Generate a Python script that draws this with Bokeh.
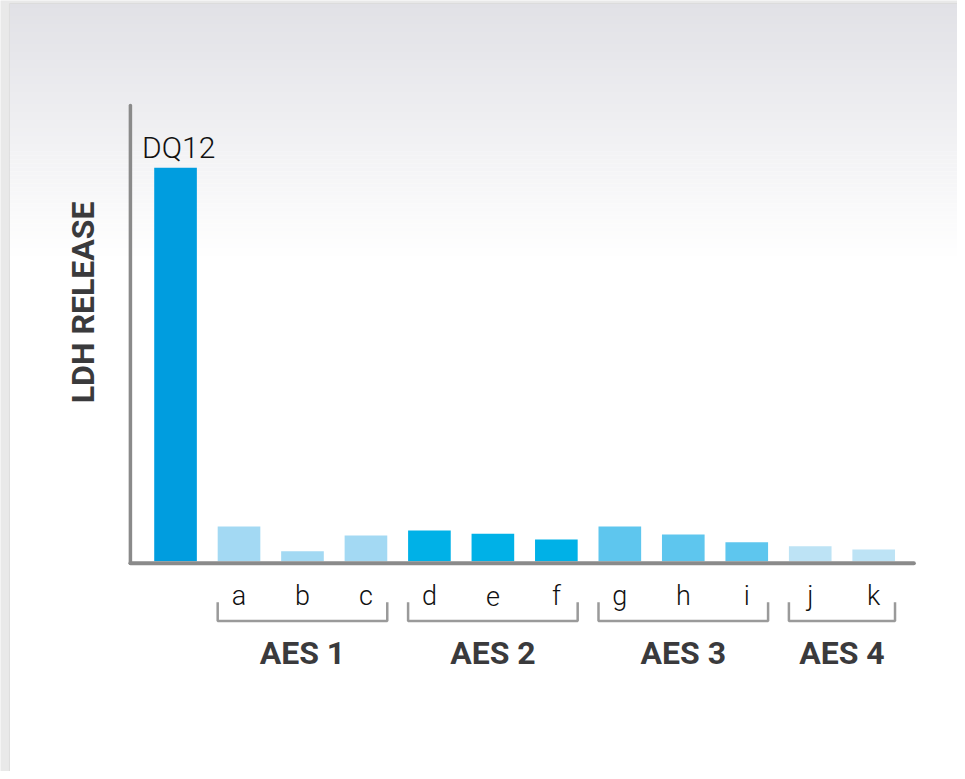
from bokeh.plotting import figure
from bokeh.models import ColumnDataSource
from bokeh.core.properties import value
from bokeh.embed import file_html
from bokeh.resources import INLINE

# ---- data ----
categories = ["DQ12", "a", "b", "c", "d", "e", "f", "g", "h", "i", "j", "k"]
ldh_release = [100, 8.8, 2.5, 6.5, 7.8, 7.0, 5.5, 8.8, 6.8, 4.8, 3.8, 3.0]
bar_colors = ["#009ddf", "#a3d9f3", "#a3d9f3", "#a3d9f3",
              "#00b1e7", "#00b1e7", "#00b1e7",
              "#5ec6ee", "#5ec6ee", "#5ec6ee",
              "#bde3f5", "#bde3f5"]
groups = ["AES 1", "AES 2", "AES 3", "AES 4"]
group_members = [["a", "b", "c"], ["d", "e", "f"], ["g", "h", "i"], ["j", "k"]]
y_title = "LDH RELEASE"

# ---- geometry ----
W, H = 957, 771
SX, SY = W / 965.0, H / 779.0
PX_X = 64.0 * SX          # pixels per category
PX_Y = 3.975 * SY         # pixels per unit
X0 = 176.5 * SX           # px of first category center
Y0 = 566.5 * SY           # px of baseline

x_start = -X0 / PX_X
x_end = (W - X0) / PX_X
y_end = Y0 / PX_Y
y_start = -(H - Y0) / PX_Y

def rx(px):  # reference-layout px -> data x
    return (px * SX - X0) / PX_X

def ry(py):  # reference-layout px (from top) -> data y
    return (Y0 - py * SY) / PX_Y

p = figure(width=W, height=H, x_range=(x_start, x_end), y_range=(y_start, y_end),
           output_backend="svg", toolbar_location=None,
           x_axis_type=None, y_axis_type=None, min_border=0,
           background_fill_color="#e9e9e9", border_fill_color="#e9e9e9")
p.outline_line_color = None
p.grid.visible = False

# panel
p.quad(left=rx(9), right=rx(980), top=ry(3), bottom=ry(800),
       fill_color="white", line_color="#dcdcdc", line_width=1)
# top gradient
n = 64
g_top, g_bot = 3.5, 262.0
c0 = (225, 225, 230)
for k in range(n):
    t0 = g_top + (g_bot - g_top) * k / n
    t1 = g_top + (g_bot - g_top) * (k + 1) / n
    f = (k + 0.5) / n
    col = tuple(int(round(c + (255 - c) * f)) for c in c0)
    p.quad(left=rx(9.5), right=rx(980), top=ry(t0), bottom=ry(t1),
           fill_color="#%02x%02x%02x" % col, line_color=None)

# bars
xs = list(range(len(categories)))
src = ColumnDataSource(dict(x=xs, top=ldh_release, color=bar_colors, cat=categories))
bw = 43 / 64.0
p.vbar(x="x", top="top", bottom=0, width=bw, fill_color="color", line_color=None, source=src)

# axes lines
ax_col = "#8a8a8a"
p.segment(x0=[rx(131)], y0=[ry(568.5)], x1=[rx(131)], y1=[ry(106)],
          line_color=ax_col, line_width=3.5, line_cap="round")
p.segment(x0=[rx(131)], y0=[ry(568.5)], x1=[rx(921)], y1=[ry(568.5)],
          line_color=ax_col, line_width=4, line_cap="round")

light_font = value("'Roboto Light', Roboto")
# category labels
p.text(x=xs[1:], y=[ry(602)] * (len(xs) - 1), text=categories[1:],
       text_font=light_font, text_font_size="27px", text_color="#111111",
       text_align="center", text_baseline="alphabetic")
# DQ12 label above its bar
p.text(x=[0.05], y=[ldh_release[0] + 20 / 3.975], text=[categories[0]],
       text_font=light_font, text_font_size="30px", text_color="#111111",
       text_align="center", text_baseline="alphabetic")

# brackets + group labels
half = bw / 2
br_top, br_bot = ry(608), ry(627)
for name, members in zip(groups, group_members):
    idx = [categories.index(m) for m in members]
    l, r = idx[0] - half, idx[-1] + half
    p.line(x=[l, l, r, r], y=[br_top, br_bot, br_bot, br_top],
           line_color="#9a9a9a", line_width=2.5)
    p.text(x=[(idx[0] + idx[-1]) / 2], y=[ry(659)], text=[name],
           text_font=value("Roboto"), text_font_style="bold", text_font_size="32px",
           text_color="#3a3a3c", text_align="center", text_baseline="alphabetic")

# y title
p.text(x=[rx(83)], y=[ry(305)], text=[y_title], angle=1.5708,
       text_font=value("Roboto"), text_font_style="bold", text_font_size="32px",
       text_color="#3a3a3c", text_align="center", text_baseline="alphabetic")

open("out.html", "w").write(file_html(p, INLINE))
